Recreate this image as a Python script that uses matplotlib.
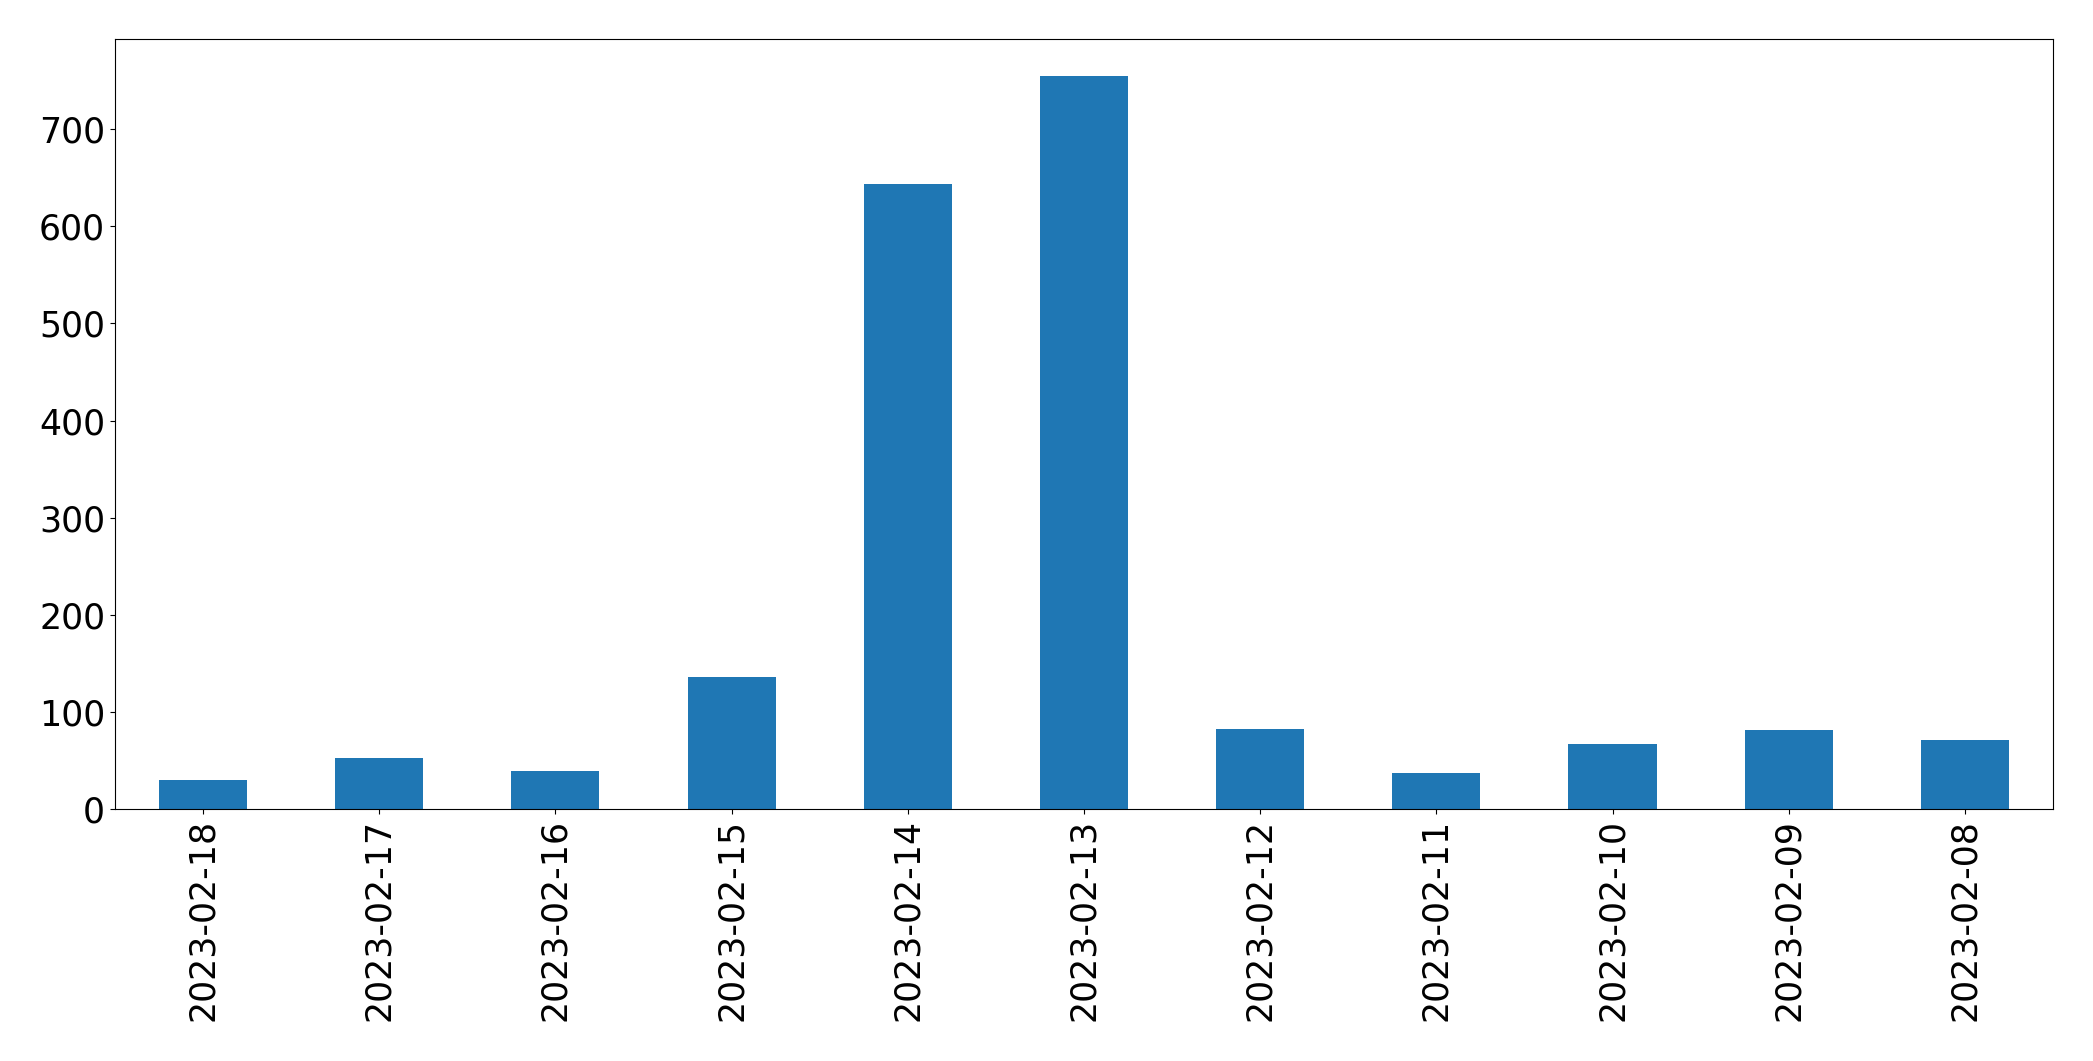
import matplotlib
matplotlib.use("Agg")
import matplotlib.pyplot as plt
import pandas as pd

# Fechas (en el orden en que aparecen) y conteos
fechas = ["2023-02-18", "2023-02-17", "2023-02-16", "2023-02-15", "2023-02-14",
          "2023-02-13", "2023-02-12", "2023-02-11", "2023-02-10", "2023-02-09",
          "2023-02-08"]
conteos = [30, 53, 39, 136, 644, 755, 82, 37, 67, 81, 71]

serie = pd.Series(conteos, index=fechas)

fig = plt.figure(figsize=(20.93, 10.61), dpi=100)
ax = fig.add_axes([0.0549, 0.2375, 0.926, 0.7257])

serie.plot(kind="bar", ax=ax, color="#1f77b4")

ax.tick_params(axis="both", labelsize=25)
ax.set_yticks([0, 100, 200, 300, 400, 500, 600, 700])

fig.savefig("out.png", dpi=100)
